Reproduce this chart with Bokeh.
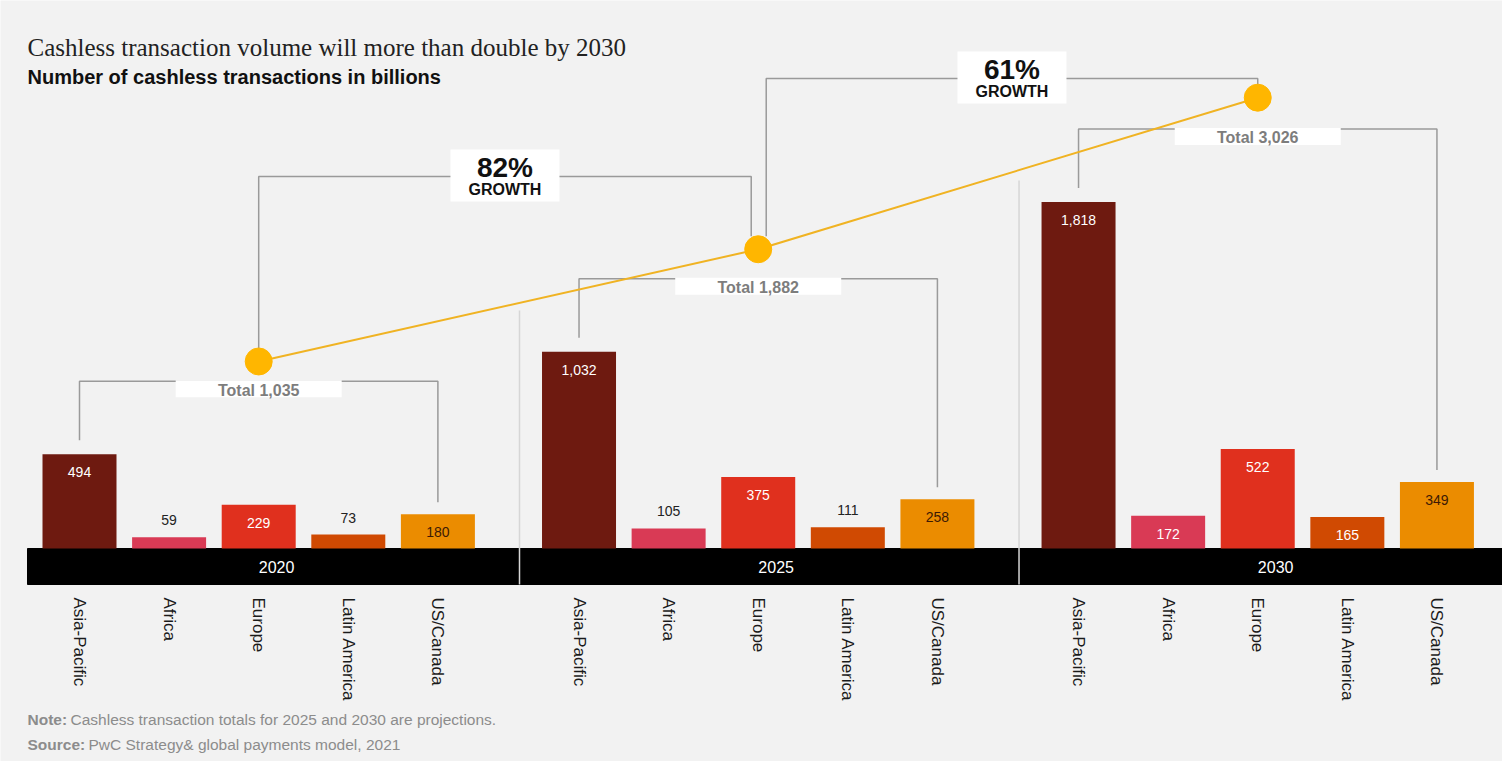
import math
from bokeh.plotting import figure
from bokeh.models import Range1d
from bokeh.core.properties import value
from bokeh.embed import file_html
from bokeh.resources import INLINE

# ---------------- data ----------------
years = ["2020", "2025", "2030"]
regions = ["Asia-Pacific", "Africa", "Europe", "Latin America", "US/Canada"]
asia_pacific = [494, 1032, 1818]
africa = [59, 105, 172]
europe = [229, 375, 522]
latin_america = [73, 111, 165]
us_canada = [180, 258, 349]
totals = [1035, 1882, 3026]

title = "Cashless transaction volume will more than double by 2030"
subtitle = "Number of cashless transactions in billions"
note_label, note_text = "Note:", "Cashless transaction totals for 2025 and 2030 are projections."
source_label, source_text = "Source:", "PwC Strategy& global payments model, 2021"

region_colors = ["#6e1a10", "#d93a55", "#e0301e", "#d04a02", "#eb8c00"]
inside_colors = ["#ffffff", "#ffffff", "#ffffff", "#ffffff", "#3d1a05"]
series = [asia_pacific, africa, europe, latin_america, us_canada]

# ---------------- layout helpers ----------------
W, H = 1502, 761
OFF = 0
SLOT = 89.6          # px per category slot
GROUP = 5.575        # slots per year group
UPP = 1 / 0.1906     # billions per px
BASE = 548           # image y of zero line
TA, TB = 498.1, 0.13249   # totals scale (image y = TA - TB*T)
FONT = value("Liberation Sans")


def ix(px):
    return (px - 79) / SLOT


def iy(py):
    return (BASE - py) * UPP


def it(py):
    return (TA - py) / TB


p = figure(width=W, height=H, output_backend="svg", toolbar_location=None,
           x_range=Range1d(ix(OFF), ix(OFF + W)),
           y_range=Range1d(iy(OFF + H), iy(OFF)),
           x_axis_location=None, y_axis_location=None, min_border=0)
p.extra_y_ranges = {"totals": Range1d(it(OFF + H), it(OFF))}
p.background_fill_color = "#f2f2f2"
p.border_fill_color = "#f2f2f2"
p.outline_line_color = None
p.grid.visible = False

# black year band
p.quad(left=[ix(27)], right=[ix(1520)], bottom=[iy(584)], top=[0], color="#000000")

# group separators
sep_x = [g * GROUP + ix(519) for g in range(len(years) - 1)]
sep_top = [iy(310), iy(180)]
p.segment(x0=sep_x, y0=sep_top, x1=sep_x, y1=[iy(584)] * len(sep_x),
          line_color="#d6d6d6", line_width=1.5)

# bars
bx, bt, bc = [], [], []
for g in range(len(years)):
    for i, s in enumerate(series):
        bx.append(g * GROUP + i)
        bt.append(s[g])
        bc.append(region_colors[i])
p.vbar(x=bx, top=bt, bottom=0, width=74 / SLOT, fill_color=bc, line_color=None)

# value labels
lx, ly, lt, lc = [], [], [], []
for g in range(len(years)):
    for i, s in enumerate(series):
        v = s[g]
        lx.append(g * GROUP + i)
        lt.append(f"{v:,}")
        if v >= 150:
            ly.append(v - 18 * UPP)
            lc.append(inside_colors[i])
        else:
            ly.append(v + 17 * UPP)
            lc.append("#222222")
p.text(x=lx, y=ly, text=lt, text_color=lc, text_font=FONT, text_font_size="14px",
       text_align="center", text_baseline="middle")

# year labels in band
p.text(x=[g * GROUP + 2.2 for g in range(len(years))], y=[iy(566)] * len(years), text=years,
       text_color="#ffffff", text_font=FONT, text_font_size="16px",
       text_align="center", text_baseline="middle")

# category labels (rotated)
cx, ct = [], []
for g in range(len(years)):
    for i, r in enumerate(regions):
        cx.append(g * GROUP + i)
        ct.append(r)
p.text(x=cx, y=[iy(597)] * len(cx), text=ct, angle=-math.pi / 2,
       text_color="#1a1a1a", text_font=FONT, text_font_size="17px",
       text_align="left", text_baseline="middle")

# total brackets
txs, tys, box_x, box_y, tot_txt_y = [], [], [], [], []
for g in range(len(years)):
    xl, xr = g * GROUP + 0, g * GROUP + 4
    yh = asia_pacific[g] + 73 * UPP
    txs.append([xl, xl, xr, xr])
    tys.append([asia_pacific[g] + 14 * UPP, yh, yh, us_canada[g] + 12 * UPP])
    box_x.append(g * GROUP + 2)
    box_y.append(yh - 7.5 * UPP)
    tot_txt_y.append(yh - 9 * UPP)
p.multi_line(xs=txs, ys=tys, line_color="#9a9a9a", line_width=1.5)

# yellow totals line
circ_x = [g * GROUP + 2.0 for g in range(len(years))]
p.line(x=circ_x, y=totals, y_range_name="totals", line_color="#f0b323", line_width=2)

# total label boxes
p.rect(x=box_x, y=box_y, width=166, height=17, width_units="screen", height_units="screen",
       fill_color="#ffffff", line_color=None)
p.text(x=box_x, y=tot_txt_y, text=[f"Total {t:,}" for t in totals],
       text_color="#7d7d7d", text_font=FONT, text_font_style="bold", text_font_size="16px",
       text_align="center", text_baseline="middle")

# growth brackets
growth_line_px = [176, 78]
gxs, gys, gbx, gby, gp, gg = [], [], [], [], [], []
for k in range(len(years) - 1):
    xl = circ_x[k] + (0 if k == 0 else 8 / SLOT)
    xr = circ_x[k + 1] - (7 / SLOT if k == 0 else 0)
    yh = it(growth_line_px[k])
    gxs.append([xl, xl, xr, xr])
    gys.append([totals[k] + 13 / TB, yh, yh, totals[k + 1] + 13 / TB])
    gbx.append((xl + xr) / 2)
    gby.append(it(growth_line_px[k] - 1))
    gp.append(it(growth_line_px[k] - 9))
    gg.append(it(growth_line_px[k] + 13))
p.multi_line(xs=gxs, ys=gys, y_range_name="totals", line_color="#9a9a9a", line_width=1.5)
p.rect(x=gbx, y=gby, width=109, height=52, width_units="screen", height_units="screen",
       y_range_name="totals", fill_color="#ffffff", line_color=None)
pct = [f"{round((totals[k + 1] / totals[k] - 1) * 100)}%" for k in range(len(years) - 1)]
p.text(x=gbx, y=gp, text=pct, y_range_name="totals", text_color="#111111", text_font=FONT,
       text_font_style="bold", text_font_size="28px", text_align="center", text_baseline="middle")
p.text(x=gbx, y=gg, text=["GROWTH"] * len(gbx), y_range_name="totals", text_color="#111111",
       text_font=FONT, text_font_style="bold", text_font_size="16px",
       text_align="center", text_baseline="middle")

# circles
p.scatter(x=circ_x, y=totals, y_range_name="totals", size=27, marker="circle",
          fill_color="#ffb600", line_color="#ffb600")

# titles
p.text(x=[ix(27)], y=[iy(47)], text=[title], text_color="#222222",
       text_font=value("Liberation Serif"), text_font_size="25px",
       text_align="left", text_baseline="middle")
p.text(x=[ix(27)], y=[iy(76)], text=[subtitle], text_color="#111111", text_font=FONT,
       text_font_style="bold", text_font_size="20px", text_align="left", text_baseline="middle")

# footer
p.text(x=[ix(27), ix(27)], y=[iy(719), iy(744)], text=[note_label, source_label],
       text_color="#8c8c8c", text_font=FONT, text_font_style="bold", text_font_size="15.5px",
       text_align="left", text_baseline="middle")
p.text(x=[ix(70), ix(88)], y=[iy(719), iy(744)], text=[note_text, source_text],
       text_color="#8c8c8c", text_font=FONT, text_font_size="15.5px",
       text_align="left", text_baseline="middle")

open("out.html", "w").write(file_html(p, INLINE))
